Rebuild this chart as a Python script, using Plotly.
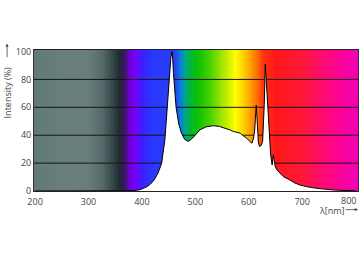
import numpy as np
import plotly.graph_objects as go

# Spectrum data (wavelength nm, relative intensity %)
wavelength = [200, 370, 385, 396, 404, 409, 416, 423, 430, 437, 443, 448, 452, 454, 456, 457,
              459, 461, 464, 469, 474, 480, 487, 495, 509, 520, 534, 545, 555, 565, 571, 584,
              590, 596, 602, 606, 609, 611, 612.5, 614, 615, 616.5, 618, 620, 623, 626, 628,
              629, 631, 632.5, 634, 636, 637.5, 641, 643.8, 646, 648, 650, 654, 659, 665,
              677, 686, 696, 710, 728, 745, 760, 780, 800]
intensity = [0, 0, 0.3, 0.9, 2, 3, 5, 8, 12.7, 20, 36.7, 60, 84, 95, 100, 99,
             85, 72, 60, 48, 41.5, 37, 35.5, 38, 43.9, 46, 46.8, 46.3, 45.2, 43.8, 42.7, 41.5,
             39.5, 37.9, 35.5, 34.3, 38, 43, 52, 61.4, 55, 42, 35, 32, 32.5, 35.5, 50,
             62, 91, 80, 68, 54, 45, 26, 18.7, 25.9, 21, 17, 14.5, 12.7, 10.3,
             7.9, 5.8, 4.3, 3, 1.9, 1.1, 0.7, 0.4, 0.2]

y_ticks = [0, 20, 40, 60, 80, 100]
x_ticks = [200, 300, 400, 500, 600, 700, 800]
grid_levels = [20, 40, 60, 80]

X_MIN, X_MAX = 198, 804.5
Y_MIN, Y_MAX = 0, 101.1

# background spectrum colour stops (wavelength, colour)
bg_stops = [(198, '#617978'), (270, '#6a807f'), (300, '#677c7b'), (325, '#586a6a'),
            (345, '#35474a'), (358, '#1c2c2e'), (368, '#401468'), (378, '#7000e0'),
            (388, '#7a00ff'), (400, '#3c1eff'), (420, '#2838ff'), (462, '#2a40f0'),
            (472, '#0a7ce0'), (482, '#00a880'), (492, '#00b830'), (505, '#10c000'),
            (525, '#40d000'), (545, '#90e000'), (562, '#d0f000'), (575, '#ffff00'),
            (590, '#ffd000'), (603, '#ffa000'), (615, '#ff7000'), (628, '#ff3010'),
            (650, '#ff1818'), (700, '#ff1838'), (750, '#ff0880'), (804.5, '#f000b8')]
colorscale = [[(w - X_MIN) / (X_MAX - X_MIN), c] for w, c in bg_stops]

bx = np.arange(X_MIN, X_MAX + 1, 1.0)
fig = go.Figure()
fig.add_trace(go.Heatmap(x=bx, y=[-2, Y_MAX + 2], z=[bx, bx], colorscale=colorscale,
                         zmin=X_MIN, zmax=X_MAX, showscale=False, hoverinfo='skip'))
for g in grid_levels:
    fig.add_trace(go.Scatter(x=[X_MIN, X_MAX], y=[g, g], mode='lines',
                             line=dict(color='#151515', width=1), hoverinfo='skip',
                             showlegend=False))
fig.add_trace(go.Scatter(x=wavelength, y=intensity, mode='lines', fill='tozeroy',
                         fillcolor='white', line=dict(color='black', width=1),
                         showlegend=False, hoverinfo='skip'))

font = dict(family='Open Sans, Noto Sans, sans-serif', size=9, color='#444')
# last tick label sits flush with the right edge, as in the reference
x_ticktext = [str(t) for t in x_ticks[:-1]] + ['']
fig.update_layout(
    width=360, height=262, margin=dict(l=34, r=2, t=50, b=71, autoexpand=False),
    paper_bgcolor='white', plot_bgcolor='white', showlegend=False, font=font,
    xaxis=dict(range=[X_MIN, X_MAX], tickvals=x_ticks, ticktext=x_ticktext,
               ticklabelstandoff=2, automargin=False, showgrid=False, zeroline=False,
               showline=True, linecolor='#222', linewidth=1, mirror=True, ticks='',
               tickfont=font),
    yaxis=dict(range=[Y_MIN, Y_MAX], tickvals=y_ticks, automargin=False, showgrid=False,
               zeroline=False, showline=True, linecolor='#333', linewidth=1, mirror=True,
               ticks='', tickfont=font),
)
fig.add_annotation(text=str(x_ticks[-1]), xref='paper', yref='paper', x=1.0, y=0,
                   xanchor='right', yanchor='top', yshift=-1, showarrow=False, font=font)
# x-axis title with arrow
fig.add_annotation(text='λ[nm]', xref='paper', yref='paper', x=0.921, y=-0.135,
                   xanchor='center', yanchor='middle', showarrow=False, font=font)
fig.add_annotation(text='', xref='paper', yref='paper', x=1.0, y=-0.132,
                   ax=-14, ay=0, axref='pixel', ayref='pixel', showarrow=True,
                   arrowhead=2, arrowsize=0.8, arrowwidth=0.8, arrowcolor='#444')
# y-axis title with arrow
fig.add_annotation(text='Intensity (%)', xref='paper', yref='paper', x=-0.083, y=0.70,
                   xanchor='center', yanchor='middle', textangle=-90, showarrow=False,
                   font=font)
fig.add_annotation(text='', xref='paper', yref='paper', x=-0.083, y=1.045,
                   ax=0, ay=15, axref='pixel', ayref='pixel', showarrow=True,
                   arrowhead=2, arrowsize=0.8, arrowwidth=0.8, arrowcolor='#444')

fig.write_html('out.html')
